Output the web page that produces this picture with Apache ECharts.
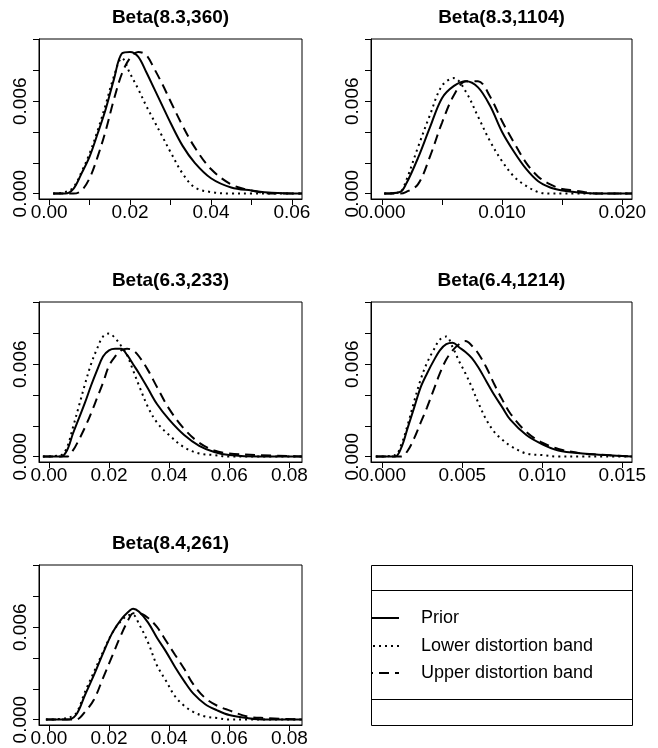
<!DOCTYPE html>
<html>
<head>
<meta charset="utf-8">
<script src="https://cdn.jsdelivr.net/npm/echarts@6/dist/echarts.min.js"></script>
<style>
  html, body { margin: 0; padding: 0; background: #fff; }
  #chart { width: 658px; height: 748px; }
</style>
</head>
<body>
<div id="chart"></div>
<script>
const titles = ['Beta(8.3,360)', 'Beta(8.3,1104)', 'Beta(6.3,233)', 'Beta(6.4,1214)', 'Beta(8.4,261)'];
const legendNames = ['Prior', 'Lower distortion band', 'Upper distortion band'];

// y axis ticks shared by all panels
const yTicks = [0, 0.002, 0.004, 0.006, 0.008, 0.010];
const yLabels = [0, 0.006];

// Beta(8.3,360)
const p1X = [0.001, 0.004, 0.006, 0.008, 0.010, 0.012, 0.014, 0.016, 0.018, 0.020, 0.022, 0.024, 0.026, 0.028, 0.030, 0.033, 0.036, 0.040, 0.045, 0.050, 0.055, 0.0625];
const p1Prior = [0, 0, 0.0003, 0.0013, 0.0024, 0.0039, 0.0055, 0.0074, 0.0091, 0.0092, 0.0089, 0.0079, 0.0068, 0.0057, 0.0046, 0.0031, 0.0020, 0.0010, 0.0004, 0.0002, 0.00005, 0];
const p1Lower = [0, 0.0001, 0.0004, 0.0014, 0.0026, 0.0041, 0.0058, 0.0076, 0.0088, 0.0078, 0.0068, 0.0057, 0.0047, 0.0037, 0.0027, 0.0013, 0.0004, 0.0001, 0, 0, 0, 0];
const p1Upper = [0, 0, 0, 0.0002, 0.0010, 0.0024, 0.0041, 0.0061, 0.0078, 0.0088, 0.0092, 0.0090, 0.0081, 0.0071, 0.0060, 0.0044, 0.0030, 0.0016, 0.0006, 0.0002, 0, 0];
const p1Ticks = [0, 0.01, 0.02, 0.03, 0.04, 0.05, 0.06];
const p1Labels = [0, 0.02, 0.04, 0.06];

// Beta(8.3,1104)
const p2X = [0.0002, 0.0015, 0.002, 0.003, 0.004, 0.005, 0.006, 0.007, 0.008, 0.009, 0.010, 0.011, 0.012, 0.013, 0.014, 0.015, 0.016, 0.018, 0.0208];
const p2Prior = [0, 0.0001, 0.0006, 0.0023, 0.0043, 0.0062, 0.0070, 0.0073, 0.0069, 0.0057, 0.0040, 0.0027, 0.0016, 0.0008, 0.0004, 0.0002, 0.0001, 0, 0];
const p2Lower = [0, 0.0001, 0.0008, 0.0030, 0.0051, 0.0070, 0.0075, 0.0066, 0.0050, 0.0034, 0.0021, 0.0011, 0.0005, 0.0001, 0, 0, 0, 0, 0];
const p2Upper = [0, 0, 0.0001, 0.0006, 0.0024, 0.0046, 0.0064, 0.0073, 0.0073, 0.0063, 0.0047, 0.0033, 0.0020, 0.0011, 0.0006, 0.0003, 0.0002, 0, 0];
const p2Ticks = [0, 0.005, 0.010, 0.015, 0.020];
const p2Labels = [0, 0.010, 0.020];

// Beta(6.3,233)
const p3X = [-0.002, 0.004, 0.006, 0.008, 0.010, 0.012, 0.014, 0.016, 0.018, 0.020, 0.022, 0.024, 0.026, 0.028, 0.030, 0.033, 0.036, 0.040, 0.045, 0.050, 0.055, 0.060, 0.070, 0.0842];
const p3Prior = [0, 0, 0.0004, 0.0015, 0.0025, 0.0035, 0.0046, 0.0056, 0.0065, 0.0069, 0.0070, 0.0070, 0.0066, 0.0060, 0.0054, 0.0044, 0.0034, 0.0024, 0.0014, 0.0007, 0.0003, 0.0001, 0, 0];
const p3Lower = [0, 0.0001, 0.0006, 0.0019, 0.0033, 0.0047, 0.0060, 0.0070, 0.0078, 0.0080, 0.0077, 0.0072, 0.0066, 0.0056, 0.0046, 0.0032, 0.0022, 0.0014, 0.0006, 0.0002, 0.0001, 0, 0, 0];
const p3Upper = [0, 0, 0, 0.0004, 0.0011, 0.0019, 0.0028, 0.0038, 0.0048, 0.0059, 0.0065, 0.0069, 0.0070, 0.0069, 0.0065, 0.0056, 0.0045, 0.0031, 0.0018, 0.0009, 0.0004, 0.0002, 0.0001, 0];
const p3Ticks = [0, 0.02, 0.04, 0.06, 0.08];
const p3Labels = [0, 0.02, 0.04, 0.06, 0.08];

// Beta(6.4,1214)
const p4X = [-0.0004, 0.0008, 0.0012, 0.0016, 0.0020, 0.0024, 0.0028, 0.0032, 0.0036, 0.0040, 0.0044, 0.0048, 0.0052, 0.0056, 0.0060, 0.0065, 0.0070, 0.0075, 0.0080, 0.0090, 0.0100, 0.0110, 0.0125, 0.0140, 0.0156];
const p4Prior = [0, 0, 0.0006, 0.0019, 0.0032, 0.0045, 0.0054, 0.0062, 0.0069, 0.0073, 0.0074, 0.0071, 0.0068, 0.0064, 0.0058, 0.0049, 0.0040, 0.0032, 0.0024, 0.0014, 0.0008, 0.0004, 0.0002, 0.0001, 0];
const p4Lower = [0, 0.0001, 0.0008, 0.0021, 0.0036, 0.0050, 0.0061, 0.0069, 0.0076, 0.0078, 0.0071, 0.0062, 0.0054, 0.0045, 0.0035, 0.0024, 0.0016, 0.0011, 0.0007, 0.0002, 0.0001, 0, 0, 0, 0];
const p4Upper = [0, 0, 0, 0.0004, 0.0012, 0.0022, 0.0032, 0.0043, 0.0054, 0.0063, 0.0069, 0.0073, 0.0075, 0.0072, 0.0067, 0.0058, 0.0047, 0.0037, 0.0028, 0.0016, 0.0009, 0.0005, 0.0002, 0.0001, 0];
const p4Ticks = [0, 0.005, 0.010, 0.015];
const p4Labels = [0, 0.005, 0.010, 0.015];

// Beta(8.4,261)
const p5X = [-0.001, 0.006, 0.009, 0.012, 0.015, 0.018, 0.021, 0.024, 0.027, 0.028, 0.030, 0.033, 0.036, 0.039, 0.042, 0.045, 0.048, 0.052, 0.056, 0.060, 0.066, 0.072, 0.0842];
const p5Prior = [0, 0, 0.0003, 0.0016, 0.0029, 0.0043, 0.0056, 0.0065, 0.0071, 0.0072, 0.0070, 0.0063, 0.0053, 0.0044, 0.0034, 0.0025, 0.0017, 0.0010, 0.0006, 0.0003, 0.0001, 0, 0];
const p5Lower = [0, 0.0001, 0.0004, 0.0018, 0.0031, 0.0044, 0.0056, 0.0064, 0.0068, 0.0068, 0.0062, 0.0050, 0.0035, 0.0025, 0.0015, 0.0009, 0.0005, 0.0002, 0.0001, 0, 0, 0, 0];
const p5Upper = [0, 0, 0, 0.0005, 0.0013, 0.0027, 0.0041, 0.0055, 0.0067, 0.0069, 0.0069, 0.0066, 0.0060, 0.0051, 0.0042, 0.0033, 0.0023, 0.0014, 0.0009, 0.0006, 0.0002, 0.0001, 0];
const p5Ticks = [0, 0.02, 0.04, 0.06, 0.08];
const p5Labels = [0, 0.02, 0.04, 0.06, 0.08];

const FONT = '"Liberation Sans", Arial, sans-serif';

const panels = [
    { x: p1X, ys: [p1Prior, p1Lower, p1Upper], ticks: p1Ticks, labels: p1Labels, digits: 2, min: -0.0025, max: 0.0625, left: 39, top: 39, width: 263 },
    { x: p2X, ys: [p2Prior, p2Lower, p2Upper], ticks: p2Ticks, labels: p2Labels, digits: 3, min: -0.0009, max: 0.0208, left: 371, top: 39, width: 261 },
    { x: p3X, ys: [p3Prior, p3Lower, p3Upper], ticks: p3Ticks, labels: p3Labels, digits: 2, min: -0.0033, max: 0.0842, left: 39, top: 302, width: 263 },
    { x: p4X, ys: [p4Prior, p4Lower, p4Upper], ticks: p4Ticks, labels: p4Labels, digits: 3, min: -0.0007, max: 0.0156, left: 371, top: 302, width: 261 },
    { x: p5X, ys: [p5Prior, p5Lower, p5Upper], ticks: p5Ticks, labels: p5Labels, digits: 2, min: -0.0033, max: 0.0842, left: 39, top: 565, width: 263 }
];
const PANEL_H = 160;

// prior solid, lower dotted, upper dashed
const lineTypes = ['solid', [2, 4], [10, 6]];

const zip = (xs, ys) => xs.map((x, k) => [x, ys[k]]);

const grid = [], xAxis = [], yAxis = [], series = [], title = [];

panels.forEach((p, i) => {
    grid.push({
        left: p.left, top: p.top, width: p.width, height: PANEL_H,
        show: true, borderColor: '#000', borderWidth: 1, backgroundColor: 'transparent'
    });
    title.push({
        text: titles[i],
        left: p.left + p.width / 2,
        top: p.top - 31,
        padding: 0,
        textAlign: 'center',
        textStyle: { fontFamily: FONT, fontSize: 19, fontWeight: 'bold', color: '#000' }
    });
    xAxis.push({
        gridIndex: i, type: 'value', min: p.min, max: p.max,
        axisLine: { show: true, onZero: false, lineStyle: { color: '#000', width: 1 } },
        axisTick: { show: true, customValues: p.ticks, length: 6, lineStyle: { color: '#000' } },
        axisLabel: {
            customValues: p.labels, formatter: v => v.toFixed(p.digits),
            color: '#000', fontSize: 19, fontFamily: FONT, margin: 4
        },
        splitLine: { show: false }
    });
    yAxis.push({
        gridIndex: i, type: 'value', min: -0.00035, max: 0.01004,
        axisLine: { show: true, onZero: false, lineStyle: { color: '#000', width: 1 } },
        axisTick: { show: true, customValues: yTicks, length: 6, lineStyle: { color: '#000' } },
        axisLabel: {
            customValues: yLabels, formatter: v => v.toFixed(3), rotate: 90,
            color: '#000', fontSize: 19, fontFamily: FONT, margin: 9
        },
        splitLine: { show: false }
    });
    p.ys.forEach((ys, j) => {
        series.push({
            name: legendNames[j], type: 'line',
            xAxisIndex: i, yAxisIndex: i,
            data: zip(p.x, ys),
            showSymbol: false, smooth: 0.35, silent: true,
            lineStyle: { color: '#000', width: 2, type: lineTypes[j] }
        });
    });
});

// legend panel drawn as a boxed key like the R original
const LG = { left: 371, top: 565, width: 261, height: 160 };
const legendRows = [618, 646, 673];
const graphic = [
    { type: 'rect', shape: { x: LG.left + 0.5, y: LG.top + 0.5, width: LG.width, height: LG.height }, style: { fill: 'none', stroke: '#000', lineWidth: 1 } },
    { type: 'line', shape: { x1: LG.left, y1: 590.5, x2: LG.left + LG.width, y2: 590.5 }, style: { stroke: '#000', lineWidth: 1 } },
    { type: 'line', shape: { x1: LG.left, y1: 699.5, x2: LG.left + LG.width, y2: 699.5 }, style: { stroke: '#000', lineWidth: 1 } }
];
legendNames.forEach((name, j) => {
    graphic.push({
        type: 'line',
        shape: { x1: LG.left, y1: legendRows[j], x2: LG.left + 28, y2: legendRows[j] },
        style: {
            stroke: '#000', lineWidth: 2,
            lineDash: j === 0 ? null : lineTypes[j],
            lineDashOffset: j === 2 ? 8 : -2
        }
    });
    graphic.push({
        type: 'text', x: LG.left + 50, y: legendRows[j],
        style: { text: name, fontFamily: FONT, fontSize: 18, fill: '#000', verticalAlign: 'middle' }
    });
});

const chart = echarts.init(document.getElementById('chart'));
chart.setOption({
    animation: false,
    backgroundColor: '#fff',
    title: title,
    grid: grid,
    xAxis: xAxis,
    yAxis: yAxis,
    series: series,
    graphic: graphic
});
</script>
</body>
</html>
